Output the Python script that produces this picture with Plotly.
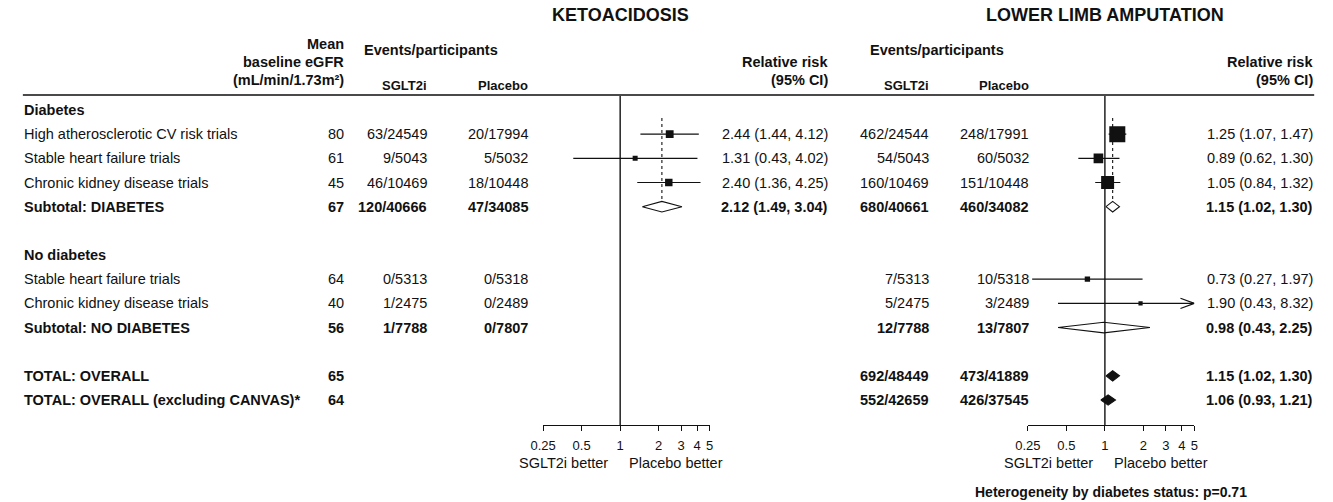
import math
import plotly.graph_objects as go

W, H = 1333, 502
FONT = "Liberation Sans, Arial, Helvetica, sans-serif"
INK = "#111111"
BODY = 14.5

# ---- table rows -------------------------------------------------------------
row_kind = ["group", "study", "study", "study", "subtotal", "blank",
            "group", "study", "study", "subtotal", "blank", "total", "total"]
row_labels = ["Diabetes",
              "High atherosclerotic CV risk trials",
              "Stable heart failure trials",
              "Chronic kidney disease trials",
              "Subtotal: DIABETES",
              "",
              "No diabetes",
              "Stable heart failure trials",
              "Chronic kidney disease trials",
              "Subtotal: NO DIABETES",
              "",
              "TOTAL: OVERALL",
              "TOTAL: OVERALL (excluding CANVAS)*"]
egfr = ["", "80", "61", "45", "67", "", "", "64", "40", "56", "", "65", "64"]

# ---- ketoacidosis ------------------------------------------------------------
keto_sglt2i = ["", "63/24549", "9/5043", "46/10469", "120/40666", "", "",
               "0/5313", "1/2475", "1/7788", "", "", ""]
keto_placebo = ["", "20/17994", "5/5032", "18/10448", "47/34085", "", "",
                "0/5318", "0/2489", "0/7807", "", "", ""]
keto_rr = [None, 2.44, 1.31, 2.40, 2.12, None, None, None, None, None, None, None, None]
keto_lo = [None, 1.44, 0.43, 1.36, 1.49, None, None, None, None, None, None, None, None]
keto_hi = [None, 4.12, 4.02, 4.25, 3.04, None, None, None, None, None, None, None, None]

# ---- lower limb amputation ---------------------------------------------------
lla_sglt2i = ["", "462/24544", "54/5043", "160/10469", "680/40661", "", "",
              "7/5313", "5/2475", "12/7788", "", "692/48449", "552/42659"]
lla_placebo = ["", "248/17991", "60/5032", "151/10448", "460/34082", "", "",
               "10/5318", "3/2489", "13/7807", "", "473/41889", "426/37545"]
lla_rr = [None, 1.25, 0.89, 1.05, 1.15, None, None, 0.73, 1.90, 0.98, None, 1.15, 1.06]
lla_lo = [None, 1.07, 0.62, 0.84, 1.02, None, None, 0.27, 0.43, 0.43, None, 1.02, 0.93]
lla_hi = [None, 1.47, 1.30, 1.32, 1.30, None, None, 1.97, 8.32, 2.25, None, 1.30, 1.21]

tick_vals = [0.25, 0.5, 1, 2, 3, 4, 5]
tick_text = ["0.25", "0.5", "1", "2", "3", "4", "5"]
x_min, x_max = 0.25, 5

# ---- page geometry (pixels) ---------------------------------------------------
ROW0_PX, ROW_STEP = 110.0, 24.17
AXIS_PX, RULE_PX = 425.0, 95.0
y_bottom = (AXIS_PX - ROW0_PX) / ROW_STEP
y_top = (RULE_PX - ROW0_PX) / ROW_STEP
OCT_PX = 39.0  # pixels per doubling on both forest axes


def px(x):
    return x / W


def py(y):
    return 1 - y / H


def domain_from_one(one_px):
    lo = one_px + OCT_PX * math.log2(x_min)
    hi = one_px + OCT_PX * math.log2(x_max)
    return [px(lo), px(hi)]


panels = [
    dict(name="KETOACIDOSIS", xref="x", one_px=615, sg=keto_sglt2i, pl=keto_placebo,
         rr=keto_rr, lo=keto_lo, hi=keto_hi,
         col_sg=419, col_pl=522, col_rr=826, events_x=356),
    dict(name="LOWER LIMB AMPUTATION", xref="x2", one_px=1106, sg=lla_sglt2i, pl=lla_placebo,
         rr=lla_rr, lo=lla_lo, hi=lla_hi,
         col_sg=928, col_pl=1029, col_rr=1317, events_x=868),
]

fig = go.Figure()
shapes = []
annotations = []


def text(x, y, s, size=BODY, bold=False, anchor="right", yref="paper", xref="paper"):
    annotations.append(dict(
        x=x, y=y, xref=xref, yref=yref, text=f"<b>{s}</b>" if bold else s,
        showarrow=False, xanchor=anchor, yanchor="middle", borderpad=0, borderwidth=0,
        font=dict(family=FONT, size=size, color=INK)))


def weight_size(lo, hi):
    # marker side grows with the inverse-variance weight of the estimate
    se = math.log(hi / lo) / 3.92
    return 3.55 * (1.0 / se ** 2) ** 0.3


for p in panels:
    xr = p["xref"]
    ci_x, ci_y = [], []
    sq_x, sq_y, sq_s = [], [], []
    for r, kind in enumerate(row_kind):
        est, lo, hi = p["rr"][r], p["lo"][r], p["hi"][r]
        if est is None:
            continue
        if kind == "study":
            ci_x += [lo, min(hi, x_max), None]
            ci_y += [r, r, None]
            sq_x.append(est)
            sq_y.append(r)
            sq_s.append(weight_size(lo, hi))
            if hi > x_max:
                back = x_max / 2 ** (14 / OCT_PX)
                fig.add_trace(go.Scatter(
                    x=[back, x_max, back], y=[r - 0.21, r, r + 0.21], xaxis=xr, yaxis="y",
                    mode="lines", line=dict(color=INK, width=1.2),
                    hoverinfo="skip", showlegend=False, cliponaxis=False))
        else:
            dh = 0.22 if kind == "subtotal" else 0.21
            fig.add_trace(go.Scatter(
                x=[lo, est, hi, est, lo], y=[r, r - dh, r, r + dh, r],
                xaxis=xr, yaxis="y", mode="lines", fill="toself",
                fillcolor="white" if kind == "subtotal" else INK,
                line=dict(color=INK, width=1.1),
                hoverinfo="skip", showlegend=False))
    fig.add_trace(go.Scatter(
        x=ci_x, y=ci_y, xaxis=xr, yaxis="y", mode="lines",
        line=dict(color=INK, width=1.2), hoverinfo="skip", showlegend=False))
    fig.add_trace(go.Scatter(
        x=sq_x, y=sq_y, xaxis=xr, yaxis="y", mode="markers", opacity=1,
        marker=dict(symbol="square", size=sq_s, color=INK, opacity=1, line=dict(width=0)),
        hoverinfo="skip", showlegend=False))

    # line of no effect
    shapes.append(dict(type="line", xref=xr, yref="y domain", x0=1, x1=1, y0=0, y1=1,
                       line=dict(color=INK, width=1.4)))
    # pooled estimate (diabetes subtotal) as a dotted reference
    pooled = p["rr"][4]
    shapes.append(dict(type="line", xref=xr, yref="y", x0=pooled, x1=pooled,
                       y0=0.33, y1=4 - 0.22, line=dict(color=INK, width=1.1, dash="dot")))

    # column text
    for r, kind in enumerate(row_kind):
        bold = kind in ("subtotal", "total")
        if p["sg"][r]:
            text(px(p["col_sg"]), r, p["sg"][r], bold=bold, yref="y")
        if p["pl"][r]:
            text(px(p["col_pl"]), r, p["pl"][r], bold=bold, yref="y")
        if p["rr"][r] is not None:
            s = f"{p['rr'][r]:.2f} ({p['lo'][r]:.2f}, {p['hi'][r]:.2f})"
            text(px(p["col_rr"]), r, s, bold=bold, yref="y")

    # headers
    text(px(p["one_px"]), py(15), p["name"], size=18, bold=True, anchor="center")
    text(px(p["events_x"]), py(50), "Events/participants", size=14.5, bold=True, anchor="left")
    text(px(p["col_sg"]), py(86), "SGLT2i", size=13, bold=True)
    text(px(p["col_pl"]), py(86), "Placebo", size=13, bold=True)
    text(px(p["col_rr"]), py(62), "Relative risk", size=14.5, bold=True)
    text(px(p["col_rr"]), py(80), "(95% CI)", size=14.5, bold=True)

    # favours labels under the axis
    text(px(p["one_px"] - 57), py(463), "SGLT2i better", anchor="center")
    text(px(p["one_px"] + 57), py(463), "Placebo better", anchor="center")

# left table
for r, kind in enumerate(row_kind):
    bold = kind in ("group", "subtotal", "total")
    if row_labels[r]:
        text(px(11), r, row_labels[r], bold=bold, anchor="left", yref="y")
    if egfr[r]:
        text(px(335), r, egfr[r], bold=kind in ("subtotal", "total"), yref="y")

text(px(335), py(44), "Mean", size=14.5, bold=True)
text(px(335), py(62), "baseline eGFR", size=14.5, bold=True)
text(px(335), py(80), "(mL/min/1.73m²)", size=14.5, bold=True)

text(px(1112), py(492), "Heterogeneity by diabetes status: p=0.71", size=14, bold=True,
     anchor="center")

# header rule
shapes.append(dict(type="line", xref="paper", yref="paper", x0=px(10), x1=px(1318),
                   y0=py(RULE_PX), y1=py(RULE_PX), line=dict(color="#4a4a4a", width=2.2)))

axis_common = dict(
    type="log", range=[math.log10(x_min), math.log10(x_max)],
    showline=True, linecolor=INK, linewidth=1.3, mirror=False,
    ticks="outside", ticklen=5, tickwidth=1.3, tickcolor=INK,
    tickvals=tick_vals, ticktext=tick_text, ticklabelstandoff=3,
    tickfont=dict(family=FONT, size=13, color=INK),
    showgrid=False, zeroline=False, fixedrange=True, anchor="y",
)

fig.update_layout(
    width=W, height=H, autosize=False,
    margin=dict(l=0, r=0, t=0, b=0),
    paper_bgcolor="white", plot_bgcolor="white",
    xaxis=dict(domain=domain_from_one(615), **axis_common),
    xaxis2=dict(domain=domain_from_one(1106), **axis_common),
    yaxis=dict(domain=[py(AXIS_PX), py(RULE_PX)], range=[y_bottom, y_top],
               visible=False, fixedrange=True),
    shapes=shapes, annotations=annotations, showlegend=False,
)

# page body without default margins so the figure sits flush in the window
fig.write_html("out.html", config=dict(displayModeBar=False),
               post_script="document.body.style.margin='0';")
